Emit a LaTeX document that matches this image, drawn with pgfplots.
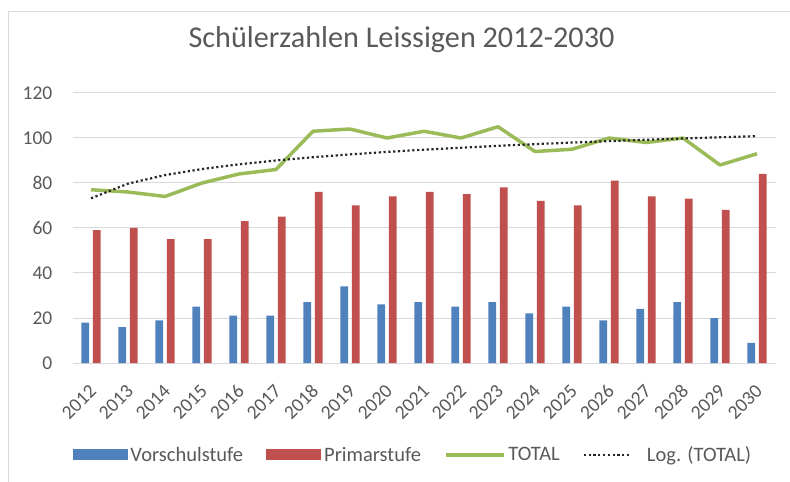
\documentclass[border=0pt]{standalone}
\usepackage{fontspec}
\setmainfont{Carlito}
\usepackage{pgfplots}
\pgfplotsset{compat=1.18}
\definecolor{barblue}{HTML}{4F81BD}
\definecolor{barred}{HTML}{C0504D}
\definecolor{linegreen}{HTML}{9BBB59}
\definecolor{gridgray}{HTML}{D9D9D9}
\definecolor{txtgray}{HTML}{595959}
\definecolor{bordergray}{HTML}{D9D9D9}
\begin{document}
\begin{tikzpicture}
\useasboundingbox (0pt,0pt) rectangle (790pt,482pt);
\draw[bordergray, line width=1pt] (8pt,0pt) -- (8pt,470pt) -- (790pt,470pt);
\node[font=\fontsize{30.2}{33}\selectfont, text=txtgray, anchor=base, inner sep=0pt] at (401.5pt,434pt) {Schülerzahlen Leissigen 2012-2030};
\begin{axis}[
  at={(72.5pt,119pt)}, anchor=south west,
  width=703pt, height=270pt, scale only axis,
  xmin=-0.5, xmax=18.5, ymin=0, ymax=120,
  ytick={0,20,...,120},
  xtick={0,...,18},
  xticklabels={2012,2013,2014,2015,2016,2017,2018,2019,2020,2021,2022,2023,2024,2025,2026,2027,2028,2029,2030},
  axis line style={draw=none},
  major tick length=0pt,
  ymajorgrids, grid style={gridgray, line width=1pt},
  /pgf/number format/assume math mode=true,
  tick label style={font=\fontsize{19.5}{22}\selectfont, text=txtgray},
  yticklabel style={inner sep=0pt, anchor=east, xshift=-20pt},
  xticklabel style={inner sep=0pt, xshift=2pt, yshift=-25pt, rotate=45, anchor=east},
  clip=false,
  legend columns=4,
  legend style={at={(rel axis cs:0,-0.3407)}, anchor=west, draw=none, fill=none,
    inner sep=0pt, outer sep=0pt,
    font=\fontsize{20.5}{23}\selectfont, text=txtgray,
    nodes={inner xsep=3pt, inner ysep=0pt},
    /tikz/every even column/.append style={column sep=20pt}},
]
\addplot[ybar, bar width=7.7pt, bar shift=-5.7pt, fill=barblue, draw=none,
  legend image code/.code={\fill[barblue] (0pt,-5.5pt) rectangle (55pt,5.5pt);}]
  coordinates {(0,18) (1,16) (2,19) (3,25) (4,21) (5,21) (6,27) (7,34) (8,26) (9,27) (10,25) (11,27) (12,22) (13,25) (14,19) (15,24) (16,27) (17,20) (18,9)};
\addlegendentry{Vorschulstufe}
\addplot[ybar, bar width=7.7pt, bar shift=5.7pt, fill=barred, draw=none,
  legend image code/.code={\fill[barred] (0pt,-5.5pt) rectangle (55pt,5.5pt);}]
  coordinates {(0,59) (1,60) (2,55) (3,55) (4,63) (5,65) (6,76) (7,70) (8,74) (9,76) (10,75) (11,78) (12,72) (13,70) (14,81) (15,74) (16,73) (17,68) (18,84)};
\addlegendentry{Primarstufe}
\addplot[linegreen, line width=3.5pt, line join=round, mark=none,
  legend image code/.code={\draw[linegreen, line width=3.5pt] (0pt,0pt) -- (58pt,0pt);}]
  coordinates {(0,77) (1,76) (2,74) (3,80) (4,84) (5,86) (6,103) (7,104) (8,100) (9,103) (10,100) (11,105) (12,94) (13,95) (14,100) (15,98) (16,100) (17,88) (18,93)};
\addlegendentry{TOTAL}
\addplot[black!85, line width=2.2pt, dash pattern=on 2.2pt off 2.6pt, mark=none,
  legend image code/.code={\draw[black!85, line width=2.2pt, dash pattern=on 2.2pt off 2.6pt] (0pt,0pt) -- (45pt,0pt);}]
  coordinates {(0,73.20) (1,79.70) (2,83.51) (3,86.21) (4,88.30) (5,90.01) (6,91.46) (7,92.71) (8,93.82) (9,94.81) (10,95.70) (11,96.52) (12,97.27) (13,97.97) (14,98.61) (15,99.22) (16,99.79) (17,100.32) (18,100.83)};
\addlegendentry{\hspace{14pt}Log. (TOTAL)}
\end{axis}
\end{tikzpicture}
\end{document}
